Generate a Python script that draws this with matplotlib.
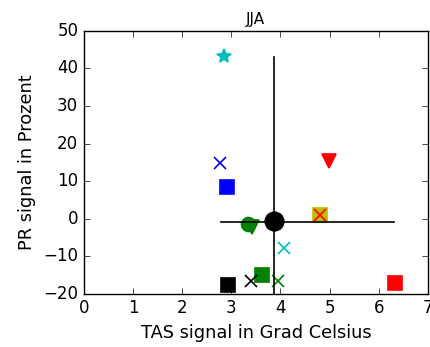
import matplotlib
matplotlib.use('Agg')
import matplotlib.pyplot as plt

plt.style.use('classic')

# model signals (TAS, PR) with colour/marker
tas = [2.86, 2.78, 4.99, 2.92, 4.81, 3.35, 3.43, 4.08, 3.63, 3.41, 3.96, 2.94, 6.33]
pr = [43.4, 14.9, 15.4, 8.5, 1.1, -1.3, -2.1, -7.7, -14.9, -16.5, -16.5, -17.6, -17.0]
cols = ['c', 'b', 'r', 'b', 'y', 'g', 'g', 'c', 'g', 'k', 'g', 'k', 'r']
marks = ['*', 'x', 'v', 's', 's', 'o', 'v', 'x', 's', 'x', 'x', 's', 's']

# red x on top of the yellow square
extra_tas = [4.81]
extra_pr = [1.1]

# ensemble mean and range
mean_tas = 3.87
mean_pr = -0.5
tas_range = [2.80, 6.31]
pr_range = [-20.0, 43.1]
hline_pr = -0.8

fig = plt.figure(figsize=(4.3, 3.47), dpi=100)
ax = fig.add_axes([0.195, 0.153, 0.8, 0.758])

for i in range(len(tas)):
    ax.plot(tas[i], pr[i], marker=marks[i], color=cols[i], mec=cols[i],
            ms=10 if marks[i] != 'x' else 9, mew=1.2, linestyle='none')
ax.plot(extra_tas, extra_pr, marker='x', color='r', mec='r', ms=9, mew=1.2, linestyle='none')

ax.plot(tas_range, [hline_pr, hline_pr], 'k-', lw=1.2)
ax.plot([mean_tas, mean_tas], pr_range, 'k-', lw=1.2)
ax.plot(mean_tas, mean_pr, 'ko', ms=14)

ax.set_xlim(0, 7)
ax.set_ylim(-20, 50)
ax.set_xticks(range(0, 8))
ax.set_yticks(range(-20, 60, 10))
ax.tick_params(labelsize=12)
ax.set_title('JJA', fontsize=11)
ax.set_xlabel('TAS signal in Grad Celsius', fontsize=12.8)
ax.set_ylabel('PR signal in Prozent', fontsize=12.8)

fig.savefig('out.png', dpi=100)
